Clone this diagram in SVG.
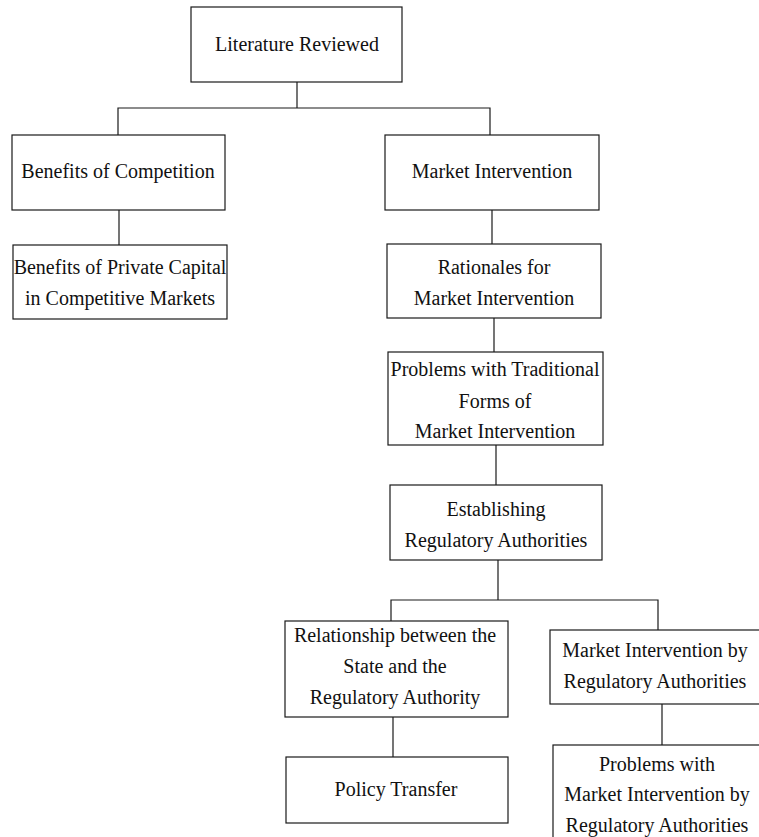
<svg xmlns="http://www.w3.org/2000/svg" width="759" height="837" viewBox="0 0 759 837">
  <style>
    .box { fill: #ffffff; stroke: #1a1a1a; stroke-width: 1.2; }
    .lbl { font-family: "Liberation Serif", "Times New Roman", serif; font-size: 20px; fill: #111111; text-anchor: middle; }
    .wire { fill: none; stroke: #1a1a1a; stroke-width: 1.2; }
  </style>
  <rect x="0" y="0" width="759" height="837" fill="#ffffff"/>

  <!-- tree connectors -->
  <g id="connectors">
    <path class="wire" d="M297,82 V108"/>
    <path class="wire" d="M118,135 V108 H490 V135"/>
    <path class="wire" d="M119,210 V245"/>
    <path class="wire" d="M492,210 V244"/>
    <path class="wire" d="M494,318 V352"/>
    <path class="wire" d="M496,445 V485"/>
    <path class="wire" d="M498,560 V600"/>
    <path class="wire" d="M391,621 V600 H658 V630"/>
    <path class="wire" d="M393,717 V757"/>
    <path class="wire" d="M662,704 V745"/>
  </g>

  <g id="literature-reviewed">
    <rect class="box" x="191" y="7" width="211" height="75"/>
    <text class="lbl" x="297" y="51">Literature Reviewed</text>
  </g>

  <g id="benefits-of-competition">
    <rect class="box" x="12" y="135" width="213" height="75"/>
    <text class="lbl" x="118" y="178">Benefits of Competition</text>
  </g>

  <g id="market-intervention">
    <rect class="box" x="385" y="135" width="214" height="75"/>
    <text class="lbl" x="492" y="178">Market Intervention</text>
  </g>

  <g id="benefits-private-capital">
    <rect class="box" x="13" y="245" width="214" height="74"/>
    <text class="lbl" x="120" y="274">Benefits of Private Capital</text>
    <text class="lbl" x="120" y="305">in Competitive Markets</text>
  </g>

  <g id="rationales">
    <rect class="box" x="387" y="244" width="214" height="74"/>
    <text class="lbl" x="494" y="274">Rationales for</text>
    <text class="lbl" x="494" y="305">Market Intervention</text>
  </g>

  <g id="traditional-problems">
    <rect class="box" x="388" y="352" width="215" height="93"/>
    <text class="lbl" x="495" y="376">Problems with Traditional</text>
    <text class="lbl" x="495" y="408">Forms of</text>
    <text class="lbl" x="495" y="438">Market Intervention</text>
  </g>

  <g id="establishing">
    <rect class="box" x="390" y="485" width="212" height="75"/>
    <text class="lbl" x="496" y="516">Establishing</text>
    <text class="lbl" x="496" y="547">Regulatory Authorities</text>
  </g>

  <g id="state-relationship">
    <rect class="box" x="285" y="621" width="223" height="96"/>
    <text class="lbl" x="395" y="642">Relationship between the</text>
    <text class="lbl" x="395" y="673">State and the</text>
    <text class="lbl" x="395" y="704">Regulatory Authority</text>
  </g>

  <g id="intervention-by-authorities">
    <rect class="box" x="550" y="630" width="215" height="74"/>
    <text class="lbl" x="655" y="657">Market Intervention by</text>
    <text class="lbl" x="655" y="688">Regulatory Authorities</text>
  </g>

  <g id="policy-transfer">
    <rect class="box" x="286" y="757" width="222" height="66"/>
    <text class="lbl" x="396" y="796">Policy Transfer</text>
  </g>

  <g id="intervention-problems">
    <rect class="box" x="553" y="745" width="215" height="100"/>
    <text class="lbl" x="657" y="771">Problems with</text>
    <text class="lbl" x="657" y="801">Market Intervention by</text>
    <text class="lbl" x="657" y="832">Regulatory Authorities</text>
  </g>
</svg>
